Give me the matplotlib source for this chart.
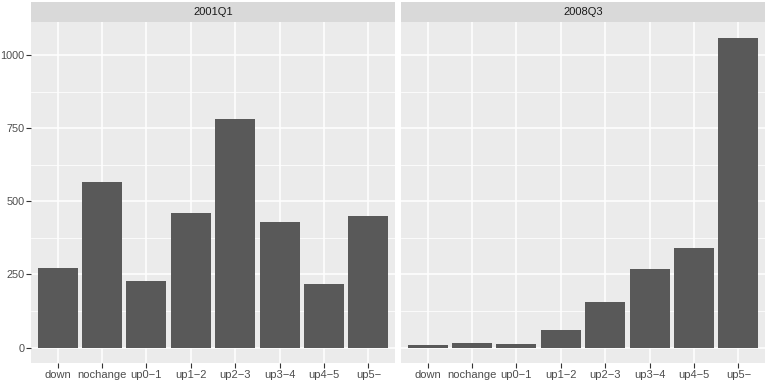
import matplotlib
matplotlib.use("Agg")
import matplotlib.pyplot as plt
import numpy as np

categories = ["down", "nochange", "up0\u22121", "up1\u22122", "up2\u22123", "up3\u22124", "up4\u22125", "up5\u2212"]
panels = ["2001Q1", "2008Q3"]
values_2001Q1 = [272, 567, 229, 462, 782, 428, 216, 451]
values_2008Q3 = [8, 14, 12, 61, 156, 267, 341, 1061]
yticks = [0, 250, 500, 750, 1000]

plt.rcParams['font.family'] = ['Liberation Sans', 'DejaVu Sans']

W, H = 768, 380
fig = plt.figure(figsize=(W / 100, H / 100), dpi=100)

panel_bg = "#EBEBEB"
strip_bg = "#D9D9D9"
bar_col = "#595959"

ymax = max(values_2001Q1 + values_2008Q3)
ylim = (-0.05 * ymax, 1.05 * ymax)

lefts = [31, 401]
rights = [395, 765]
top_px, bottom_px = 22, 363
strip_top = 2

x = np.arange(len(categories))
for i, (name, vals) in enumerate(zip(panels, [values_2001Q1, values_2008Q3])):
    l, r = lefts[i], rights[i]
    ax = fig.add_axes([l / W, 1 - bottom_px / H, (r - l) / W, (bottom_px - top_px) / H])
    ax.set_facecolor(panel_bg)
    ax.set_xlim(-0.6, len(categories) - 0.4)
    ax.set_ylim(*ylim)
    # grid
    for yt in yticks:
        ax.axhline(yt, color="white", lw=1.1, zorder=1)
    for ym in [125, 375, 625, 875]:
        ax.axhline(ym, color="white", lw=0.55, zorder=1)
    for xt in x:
        ax.axvline(xt, color="white", lw=1.1, zorder=1)
    ax.bar(x, vals, width=0.9, color=bar_col, zorder=2)
    for s in ax.spines.values():
        s.set_visible(False)
    ax.set_xticks(x)
    ax.set_xticklabels(categories)
    ax.set_yticks(yticks)
    if i == 0:
        ax.set_yticklabels([str(v) for v in yticks])
        ax.tick_params(axis='y', length=3.5, width=0.8, color="#333333",
                       labelsize=7.8, labelcolor="#4D4D4D", pad=1.2)
    else:
        ax.tick_params(axis='y', length=0, labelleft=False)
    ax.tick_params(axis='x', length=3.5, width=0.8, color="#333333",
                   labelsize=8, labelcolor="#4D4D4D", pad=1.5)
    # strip
    sax = fig.add_axes([l / W, 1 - top_px / H, (r - l) / W, (top_px - strip_top) / H])
    sax.set_facecolor(strip_bg)
    sax.set_xticks([]); sax.set_yticks([])
    for s in sax.spines.values():
        s.set_visible(False)
    sax.text(0.5, 0.5, name, ha="center", va="center", fontsize=8, color="#1A1A1A",
             transform=sax.transAxes)

fig.savefig("out.png", dpi=100, facecolor="white")
